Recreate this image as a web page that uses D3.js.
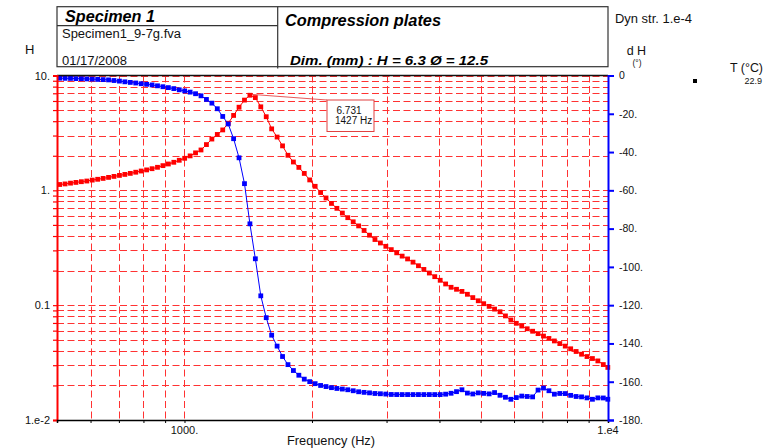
<!DOCTYPE html>
<html><head><meta charset="utf-8">
<script src="https://cdn.jsdelivr.net/npm/d3@7"></script>
<style>body{margin:0;background:#fff}svg{display:block;font-family:"Liberation Sans",Arial,sans-serif}</style>
</head><body><svg id="c" width="769" height="448"></svg>
<script>
// ---- data ----
const freqs = [507.2,522.4,538.1,554.2,570.9,588.0,605.6,623.8,642.5,661.8,
 681.6,702.1,723.1,744.8,767.2,790.2,813.9,838.3,863.5,889.4,
 916.1,943.6,971.9,1001.0,1031.1,1062.0,1093.9,1126.7,1160.5,1195.3,
 1231.1,1268.1,1306.1,1345.3,1385.7,1427.2,1470.0,1514.1,1559.6,1606.3,
 1654.5,1704.2,1755.3,1807.9,1862.2,1918.0,1975.6,2034.8,2095.9,2158.8,
 2223.5,2290.2,2358.9,2429.7,2502.6,2577.7,2655.0,2734.6,2816.7,2901.2,
 2988.2,3077.9,3170.2,3265.3,3363.3,3464.2,3568.1,3675.1,3785.4,3898.9,
 4015.9,4136.4,4260.5,4388.3,4519.9,4655.5,4795.2,4939.1,5087.2,5239.8,
 5397.0,5559.0,5725.8,5897.5,6074.4,6256.7,6444.4,6637.7,6836.8,7041.9,
 7253.2,7470.8,7694.9,7925.8,8163.6,8408.5,8660.7,8920.5,9188.1,9463.8,
 9747.7,9990.0];
const amplitudeH = [1.124,1.137,1.155,1.172,1.189,1.205,1.228,1.248,1.270,1.296,
 1.322,1.349,1.376,1.405,1.438,1.473,1.506,1.543,1.587,1.641,
 1.696,1.755,1.827,1.901,1.995,2.120,2.246,2.503,2.796,3.066,
 3.357,3.839,4.490,5.295,6.107,6.731,6.421,5.338,4.375,3.431,
 2.911,2.439,2.020,1.765,1.584,1.404,1.232,1.084,0.957,0.858,
 0.769,0.697,0.634,0.578,0.532,0.490,0.447,0.407,0.373,0.348,
 0.3255,0.3046,0.2856,0.2674,0.2527,0.2369,0.2205,0.2047,0.1905,0.1771,
 0.1647,0.1530,0.1431,0.1375,0.1318,0.1244,0.1164,0.1092,0.1030,0.0976,
 0.0924,0.0876,0.0806,0.0743,0.0695,0.0658,0.0623,0.0593,0.0565,0.0538,
 0.0513,0.0488,0.0463,0.0440,0.0417,0.0395,0.0374,0.0357,0.0343,0.0327,
 0.0304,0.0287];
const phaseDH = [-1.41,-1.47,-1.52,-1.62,-1.67,-1.78,-1.88,-2.04,-2.15,-2.30,
 -2.62,-2.93,-3.30,-3.61,-3.92,-4.29,-4.60,-4.92,-5.39,-5.86,
 -6.33,-6.85,-7.48,-8.06,-8.69,-9.52,-10.62,-12.51,-14.44,-17.37,
 -21.40,-25.33,-33.02,-43.01,-56.51,-77.50,-95.76,-115.12,-126.53,-135.68,
 -141.39,-146.83,-151.07,-154.15,-156.61,-158.65,-159.96,-161.01,-161.95,-162.53,
 -163.10,-163.52,-163.83,-164.20,-164.72,-165.25,-165.56,-165.82,-166.14,-166.29,
 -166.45,-166.66,-166.71,-166.71,-166.71,-166.71,-166.71,-166.71,-166.71,-166.71,
 -166.71,-166.50,-166.03,-165.19,-164.20,-165.93,-166.40,-165.82,-166.09,-166.35,
 -165.67,-167.08,-168.13,-169.17,-168.28,-167.50,-167.71,-167.92,-164.36,-163.31,
 -164.72,-166.50,-166.14,-166.19,-167.13,-167.71,-167.92,-168.44,-169.17,-168.44,
 -168.49,-169.17];
const hTicks = [10, 1, 0.1, 0.01];
const hTickLabels = ["10.", "1.", "0.1", "1.e-2"];
const phaseTicks = [0,-20,-40,-60,-80,-100,-120,-140,-160,-180];
const phaseTickLabels = ["0","-20.","-40.","-60.","-80.","-100.","-120.","-140.","-160.","-180."];
const freqLabelTicks = [1000, 10000];
const freqTickLabels = ["1000.", "1.e4"];
const peakF = 1427, peakH = 6.731;

// ---- layout ----
const svg = d3.select("#c");
const L = 57, R = 608, T = 75.5, B = 420;
const x = d3.scaleLog().domain([500, 10000]).range([L, R]);
const yH = d3.scaleLog().domain([0.01, 10]).range([B, T]);
const yP = d3.scaleLinear().domain([-180, 0]).range([B, T]);
const RED = "#ff0000", BLUE = "#0000ff";

// header box
const hdr = svg.append("g").attr("fill", "none").attr("stroke", "#333").attr("stroke-width", 1.2);
hdr.append("rect").attr("x", L).attr("y", 6.7).attr("width", R - L).attr("height", 60);
hdr.append("line").attr("x1", 277.7).attr("x2", 277.7).attr("y1", 6.7).attr("y2", 68.5);
hdr.append("line").attr("x1", L).attr("x2", 277.7).attr("y1", 25.7).attr("y2", 25.7);

function txt(s, xx, yy, size, opts = {}) {
  const t = svg.append("text").attr("x", xx).attr("y", yy).attr("font-size", size)
    .attr("fill", opts.fill || "#111").text(s);
  if (opts.bold) t.attr("font-weight", "bold");
  if (opts.italic) t.attr("font-style", "italic");
  if (opts.anchor) t.attr("text-anchor", opts.anchor);
  if (opts.len) t.attr("textLength", opts.len).attr("lengthAdjust", "spacingAndGlyphs");
  return t;
}
txt("Specimen 1", 65, 21.7, 16.5, {bold: 1, italic: 1, len: 90, fill: "#000"});
txt("Specimen1_9-7g.fva", 62, 38.3, 12.5, {len: 119});
txt("01/17/2008", 62, 65, 12, {len: 65});
txt("Compression plates", 285, 26, 16.5, {bold: 1, italic: 1, len: 156, fill: "#000"});
txt("Dim. (mm)  : H = 6.3  Ø = 12.5", 290, 65, 13, {bold: 1, italic: 1, len: 198, fill: "#000"});
txt("H", 25, 54.3, 13);
txt("Dyn str. 1.e-4", 615, 23.3, 13, {len: 77});
txt("d H", 626.7, 55, 12.5);
txt("(°)", 637, 65.5, 8.5, {anchor: "middle"});
txt("T (°C)", 730, 72, 12.5, {len: 33});
txt("22.9", 762, 84, 9, {anchor: "end"});
svg.append("rect").attr("x", 693).attr("y", 79).attr("width", 4).attr("height", 4).attr("fill", "#000");

// grid
const grid = svg.append("g").attr("stroke", RED).attr("stroke-width", 1)
  .attr("stroke-dasharray", "7,3.5").attr("opacity", 0.8);
grid.selectAll("line.h").data(yH.ticks()).join("line")
  .attr("x1", L).attr("x2", R).attr("y1", d => Math.round(yH(d)) + 0.5).attr("y2", d => Math.round(yH(d)) + 0.5);
grid.selectAll("line.v").data(x.ticks().filter(d => d > 500 && d < 10000)).join("line")
  .attr("x1", d => Math.round(x(d)) + 0.5).attr("x2", d => Math.round(x(d)) + 0.5).attr("y1", T).attr("y2", B);

// annotation leader + box
svg.append("line").attr("x1", x(peakF)).attr("y1", yH(peakH) - 1).attr("x2", 327).attr("y2", 100)
  .attr("stroke", "#e03030").attr("stroke-width", 0.8);
svg.append("rect").attr("x", 327).attr("y", 100).attr("width", 47).attr("height", 31.5)
  .attr("fill", "#fff").attr("stroke", "#e04040").attr("stroke-width", 1);
txt(peakH.toFixed(3), 336.5, 114, 10);
txt(peakF + " Hz", 335, 124.3, 10);

// curves
const pts = freqs.map((f, i) => ({f, h: amplitudeH[i], p: phaseDH[i]}));
const MS = 4.8;
svg.append("path").datum(pts).attr("fill", "none").attr("stroke", RED).attr("stroke-width", 1)
  .attr("d", d3.line().x(d => x(d.f)).y(d => yH(d.h)));
svg.append("g").selectAll("rect").data(pts).join("rect")
  .attr("x", d => x(d.f) - MS / 2).attr("y", d => yH(d.h) - MS / 2).attr("width", MS).attr("height", MS).attr("fill", RED);
svg.append("path").datum(pts).attr("fill", "none").attr("stroke", BLUE).attr("stroke-width", 1)
  .attr("d", d3.line().x(d => x(d.f)).y(d => yP(d.p)));
svg.append("g").selectAll("rect").data(pts).join("rect")
  .attr("x", d => x(d.f) - MS / 2).attr("y", d => yP(d.p) - MS / 2).attr("width", MS).attr("height", MS).attr("fill", BLUE);

// top border
svg.append("line").attr("x1", L).attr("x2", R).attr("y1", T).attr("y2", T).attr("stroke", "#111").attr("stroke-width", 1.5);

// left axis (H)
const axL = svg.append("g").attr("transform", `translate(${L},0)`)
  .call(d3.axisLeft(yH).tickValues(yH.ticks()).tickSize(4).tickPadding(3)
    .tickFormat(d => { const i = hTicks.findIndex(v => Math.abs(v - d) / d < 1e-6); return i >= 0 ? hTickLabels[i] : ""; }));
axL.select(".domain").attr("stroke", RED).attr("stroke-width", 2);
axL.selectAll(".tick line").attr("stroke", RED).attr("stroke-width", 1.2);
axL.selectAll(".tick text").attr("fill", "#111").attr("font-size", 11).attr("font-family", "Liberation Sans, Arial, sans-serif");

// bottom axis
const axB = svg.append("g").attr("transform", `translate(0,${B})`)
  .call(d3.axisBottom(x).tickValues(x.ticks()).tickSize(3).tickFormat(""));
axB.select(".domain").attr("stroke", "#000").attr("stroke-width", 1.5);
axB.selectAll(".tick line").attr("stroke", "#000");
svg.append("g").selectAll("text").data(freqLabelTicks).join("text")
  .attr("x", d => x(d)).attr("y", 433.5).attr("text-anchor", "middle").attr("font-size", 11).attr("fill", "#111")
  .text((d, i) => freqTickLabels[i]);
txt("Frequency (Hz)", 331, 445, 12.5, {anchor: "middle", len: 88});

// right axis (phase)
const axR = svg.append("g").attr("transform", `translate(${R},0)`)
  .call(d3.axisRight(yP).tickValues(phaseTicks).tickSize(6).tickPadding(5)
    .tickFormat((d, i) => phaseTickLabels[i]));
axR.select(".domain").attr("stroke", BLUE).attr("stroke-width", 2);
axR.selectAll(".tick line").attr("stroke", BLUE).attr("stroke-width", 2);
axR.selectAll(".tick text").attr("fill", "#111").attr("font-size", 10.5).attr("font-family", "Liberation Sans, Arial, sans-serif");
</script></body></html>
